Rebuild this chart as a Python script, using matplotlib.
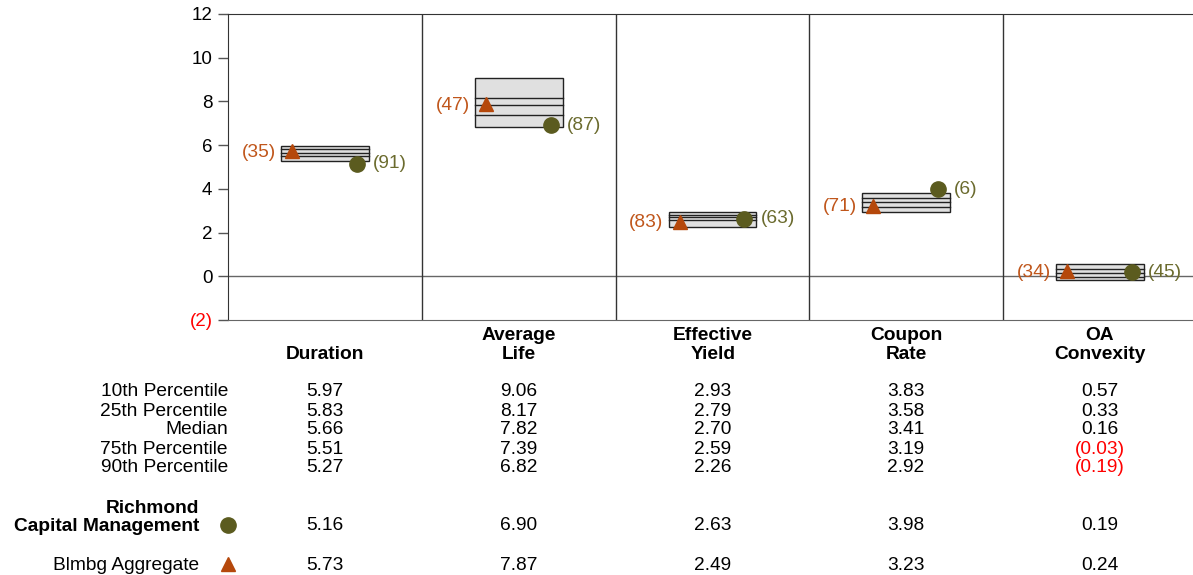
import matplotlib
matplotlib.use("Agg")
import matplotlib.pyplot as plt
from matplotlib.patches import Rectangle
import numpy as np

plt.rcParams["font.family"] = ["Liberation Sans", "DejaVu Sans"]

categories = ["Duration", "Average\nLife", "Effective\nYield", "Coupon\nRate", "OA\nConvexity"]
row_labels = ["10th Percentile", "25th Percentile", "Median", "75th Percentile", "90th Percentile"]
p10 = [5.97, 9.06, 2.93, 3.83, 0.57]
p25 = [5.83, 8.17, 2.79, 3.58, 0.33]
p50 = [5.66, 7.82, 2.70, 3.41, 0.16]
p75 = [5.51, 7.39, 2.59, 3.19, -0.03]
p90 = [5.27, 6.82, 2.26, 2.92, -0.19]
manager_name = "Richmond\nCapital Management"
manager = [5.16, 6.90, 2.63, 3.98, 0.19]
manager_rank = [91, 87, 63, 6, 45]
index_name = "Blmbg Aggregate"
index_vals = [5.73, 7.87, 2.49, 3.23, 0.24]
index_rank = [35, 47, 83, 71, 34]
yticks = [-2, 0, 2, 4, 6, 8, 10, 12]

MGR_COLOR = "#5b5b1f"
IDX_COLOR = "#b5480b"
MGR_TEXT = "#6b6b2e"
IDX_TEXT = "#c0561b"
FS = 13.8

W, H = 1193, 575
fig = plt.figure(figsize=(W / 100, H / 100), dpi=100)


def fy(py):
    return 1 - py / H


def fx(px):
    return px / W


ax = fig.add_axes([fx(228), fy(320), fx(1197) - fx(228), fy(14) - fy(320)])
ax.set_xlim(-0.5, 4.5)
ax.set_ylim(-2, 12)

ax.set_yticks(yticks)
ax.set_yticklabels([f"({abs(t)})" if t < 0 else str(t) for t in yticks], fontsize=13.5)
for lbl, t in zip(ax.get_yticklabels(), yticks):
    if t < 0:
        lbl.set_color("red")
ax.tick_params(axis="y", length=7.2, width=1, color="#555555", pad=4)
ax.set_xticks([])
ax.spines["right"].set_visible(False)
ax.spines["bottom"].set_color("#666666")
ax.spines["left"].set_color("#333333")
ax.spines["top"].set_color("#333333")
ax.axhline(0, color="#666666", lw=1)
for i in range(4):
    ax.axvline(i + 0.5, color="#333333", lw=1)

bw = 0.227
for i in range(5):
    ax.add_patch(Rectangle((i - bw, p90[i]), 2 * bw, p10[i] - p90[i],
                           facecolor="#e0e0e0", edgecolor="#222222", lw=1, zorder=2))
    for v in (p25[i], p50[i], p75[i]):
        ax.plot([i - bw, i + bw], [v, v], color="#222222", lw=1, zorder=3)

xs = np.arange(5)
ax.plot(xs - 0.17, index_vals, linestyle="none", marker="^", markersize=10,
        color=IDX_COLOR, zorder=4)
ax.plot(xs + 0.165, manager, linestyle="none", marker="o", markersize=11,
        color=MGR_COLOR, zorder=4)
for i in range(5):
    ax.annotate(f"({index_rank[i]})", (i - 0.17, index_vals[i]), textcoords="offset pixels",
                xytext=(-16, -1), ha="right", va="center", fontsize=FS, color=IDX_TEXT)
    ax.annotate(f"({manager_rank[i]})", (i + 0.165, manager[i]), textcoords="offset pixels",
                xytext=(16, 0), ha="left", va="center", fontsize=FS, color=MGR_TEXT)

# column headers and table under the chart
col_px = [325, 519, 713, 906, 1100]
for i, c in enumerate(categories):
    fig.text(fx(col_px[i]), fy(363), c, ha="center", va="bottom", fontsize=FS,
             fontweight="bold", linespacing=1.12)

rows = [p10, p25, p50, p75, p90]
row_y = [392, 411, 430, 449, 468]
for r, lab, py in zip(rows, row_labels, row_y):
    fig.text(fx(228), fy(py), lab, ha="right", va="center", fontsize=FS)
    for i, v in enumerate(r):
        txt = f"({abs(v):.2f})" if v < 0 else f"{v:.2f}"
        fig.text(fx(col_px[i]), fy(py), txt, ha="center", va="center", fontsize=FS,
                 color="red" if v < 0 else "black")

fig.text(fx(199), fy(517.5), manager_name, ha="right", va="center", fontsize=FS,
         fontweight="bold", linespacing=1.15)
fig.text(fx(199), fy(565), index_name, ha="right", va="center", fontsize=FS)
for i in range(5):
    fig.text(fx(col_px[i]), fy(526), f"{manager[i]:.2f}", ha="center", va="center", fontsize=FS)
    fig.text(fx(col_px[i]), fy(565), f"{index_vals[i]:.2f}", ha="center", va="center", fontsize=FS)

fig.lines.append(plt.Line2D([fx(228)], [fy(525)], transform=fig.transFigure, marker="o",
                            markersize=11, color=MGR_COLOR, linestyle="none"))
fig.lines.append(plt.Line2D([fx(228)], [fy(564)], transform=fig.transFigure, marker="^",
                            markersize=10, color=IDX_COLOR, linestyle="none"))

fig.savefig("out.png", dpi=100)
